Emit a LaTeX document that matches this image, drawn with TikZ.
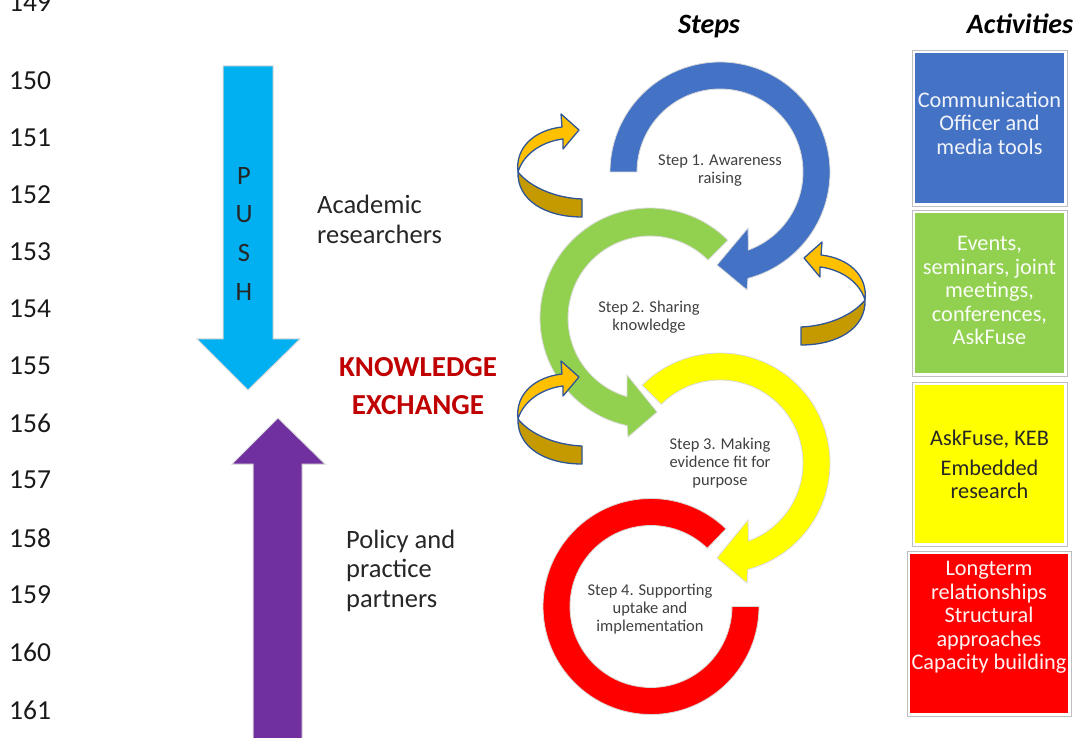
\documentclass[tikz,border=0pt]{standalone}
\usepackage{fontspec}
\setmainfont{Carlito}
\usetikzlibrary{calc}
\definecolor{cblue}{HTML}{4472C4}
\definecolor{cgreen}{HTML}{92D050}
\definecolor{cyellow}{HTML}{FFFF00}
\definecolor{cred}{HTML}{FF0000}
\definecolor{ccyan}{HTML}{00B0F0}
\definecolor{cpurple}{HTML}{7030A0}
\definecolor{cdarkred}{HTML}{C00000}
\definecolor{cgold}{HTML}{FFC000}
\definecolor{cdgold}{HTML}{C59A00}
\definecolor{cline}{HTML}{2F5597}
\newcommand{\goldarrow}{%
  \filldraw[goldpart, fill=cdgold] (518,565) .. controls (530,550) and (555,539) .. (582,538)
     -- (582,520) .. controls (545,520) and (517,537) .. (518,565) -- cycle;
  \filldraw[goldpart, fill=cgold] (518,565) .. controls (515,590) and (535,607) .. (562,610)
     -- (561,623) -- (579,607) -- (563,588) -- (563,598)
     .. controls (545,596) and (524,585) .. (518,565) -- cycle;
}
\begin{document}
\begin{tikzpicture}[x=1pt,y=1pt,
  body/.style={font=\fontsize{26.5}{29.5}\selectfont, text=black!85, inner sep=0, align=left},
  lnum/.style={font=\fontsize{27.5}{29.5}\selectfont, text=black!90, inner sep=0, anchor=west},
  head/.style={font=\fontsize{28}{30}\selectfont\bfseries\itshape, inner sep=0, anchor=base},
  steptxt/.style={font=\fontsize{16.5}{18}\selectfont, text=black!75, align=center, inner sep=0},
  acttxt/.style={font=\fontsize{22.3}{23.5}\selectfont, align=center, inner sep=0},
  ring/.style={draw=black!15, line width=0.8pt},
  bigarrow/.style={draw=black!15, line width=1pt},
  actbox/.style={draw=black!25, line width=0.8pt, fill=white},
  goldpart/.style={draw=cline, line width=1.3pt, line join=round},
]
\useasboundingbox (0,0) rectangle (1078,737);
\clip (0,0) rectangle (1078,737);

% line numbers
\foreach \n/\yy in {149/3,150/81,151/138,152/195,153/252,154/309,155/366,156/423,157/480,158/538,159/595,160/652,161/710}
  \node[lnum] (ln\n) at (9,737-\yy) {\n};

% PUSH arrow
\filldraw[bigarrow, fill=ccyan] (223,671) -- (273,671) -- (273,398) -- (300,398) -- (248,347) -- (197,398) -- (223,398) -- cycle;
\node[body] (p) at (244,561) {P};
\node[body] (u) at (244,523) {U};
\node[body] (s) at (244,484) {S};
\node[body] (h) at (244,445) {H};

% purple arrow
\filldraw[bigarrow, fill=cpurple] (253,-5) -- (253,273) -- (232,273) -- (278,319) -- (325,273) -- (302,273) -- (302,-5) -- cycle;

% side texts
\node[body, anchor=west] (acad) at (317,517.5) {Academic\\researchers};
\node[body, anchor=west] (pol) at (346,166.5) {Policy and\\practice\\partners};
\node[font=\fontsize{29}{38}\selectfont\bfseries, text=cdarkred, align=center, inner sep=0] (ke) at (418,351) {KNOWLEDGE\\EXCHANGE};

% headers
\node[head] (steps) at (709,703) {Steps};
\node[head] (acts) at (1020,703) {Activities};

% rings
\coordinate (c1) at (720,565);
\coordinate (c2) at (650,419);
\coordinate (c3) at (720,274);
\coordinate (c4) at (651,130.5);

\filldraw[ring, fill=cred] ([shift={(0:108)}]c4) arc[start angle=0, end angle=-314, radius=108]
   -- ([shift={(46:81)}]c4) arc[start angle=46, end angle=360, radius=81] -- cycle;

\filldraw[ring, fill=cyellow] ([shift={(135:110)}]c3) arc[start angle=135, end angle=-75.3, radius=110]
   -- (747,154) -- (717,179) -- (748,217) -- ([shift={(-70:83)}]c3)
   arc[start angle=-70, end angle=135, radius=83] -- cycle;

\filldraw[ring, fill=cgreen] ([shift={(45:110)}]c2) arc[start angle=45, end angle=258, radius=110]
   -- (628,300) -- (657,325) -- (627,362) -- ([shift={(253.7:82)}]c2)
   arc[start angle=253.7, end angle=45, radius=82] -- cycle;

\filldraw[ring, fill=cblue] ([shift={(180:110)}]c1) -- ([shift={(180:83)}]c1)
   arc[start angle=180, end angle=-70, radius=83]
   -- (748,509) -- (717,472) -- (747,447) -- ([shift={(-75.3:110)}]c1)
   arc[start angle=-75.3, end angle=180, radius=110] -- cycle;

\node[steptxt] (s1) at (720,566) {Step 1. Awareness\\raising};
\node[steptxt] (s2) at (649,420) {Step 2. Sharing\\knowledge};
\node[steptxt] (s3) at (720,274) {Step 3. Making\\evidence fit for\\purpose};
\node[steptxt] (s4) at (650,128) {Step 4. Supporting\\uptake and\\implementation};

% gold curved arrows
\goldarrow
\begin{scope}[yshift=-247pt]
  \goldarrow
\end{scope}
\begin{scope}[shift={(1383,-128)}, xscale=-1]
  \goldarrow
\end{scope}

% activity boxes
\draw[actbox] (912,531) rectangle (1067,687);
\fill[cblue] (915,534) rectangle (1064,684);
\node[acttxt, text=white!92!cblue] (a1) at (989.5,614) {Communication\\Officer and\\media tools};

\draw[actbox] (912,361) rectangle (1067,527);
\fill[cgreen] (915,364) rectangle (1064,524);
\node[acttxt, text=white!95!cgreen] (a2) at (989.5,446.5) {Events,\\seminars, joint\\meetings,\\conferences,\\AskFuse};

\draw[actbox] (912,191) rectangle (1067,355);
\fill[cyellow] (915,194) rectangle (1064,352);
\node[acttxt, text=black!85] (a3) at (989.5,272.5) {AskFuse, KEB\\[6pt]Embedded\\research};

\draw[actbox] (907,21) rectangle (1071,186);
\fill[cred] (910,24) rectangle (1068,183);
\node[acttxt, text=white!95!cred] (a4) at (989,119.5) {Longterm\\relationships\\Structural\\approaches\\Capacity building};
\end{tikzpicture}
\end{document}
